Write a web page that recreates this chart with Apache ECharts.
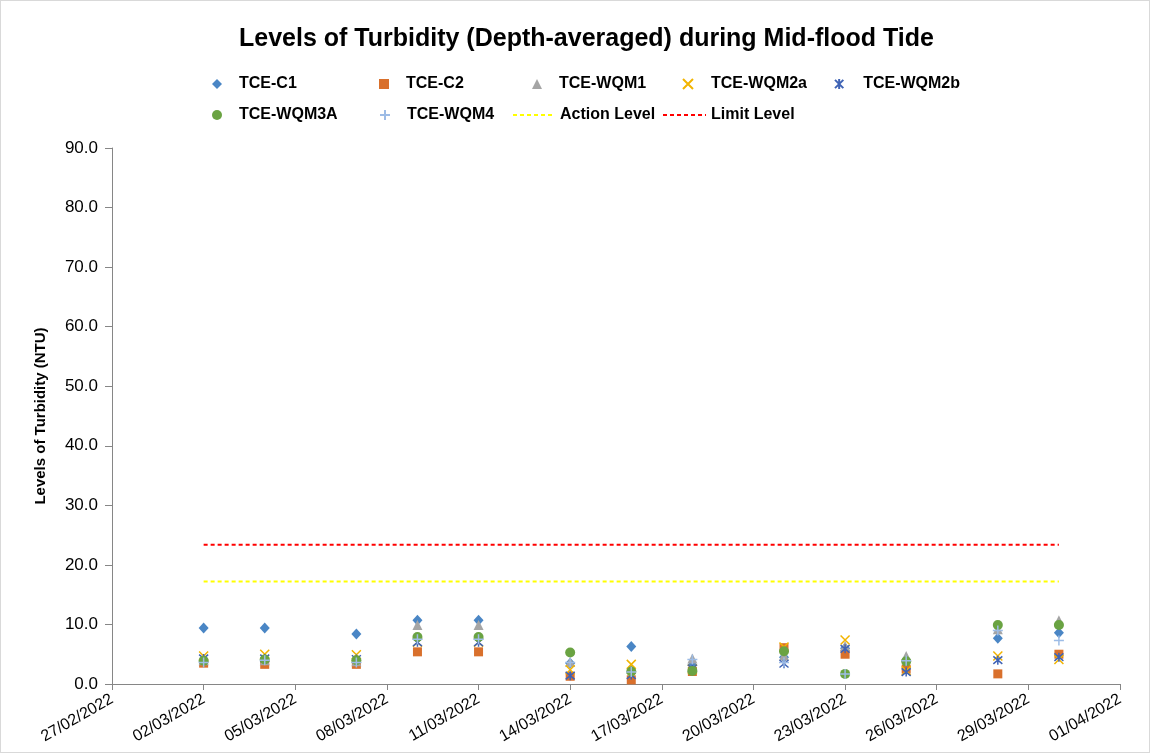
<!DOCTYPE html>
<html>
<head>
<meta charset="utf-8">
<script src="https://cdn.jsdelivr.net/npm/echarts@6/dist/echarts.min.js"></script>
<style>
html,body{margin:0;padding:0;background:#fff;}
#c{width:1148px;height:751px;border:1px solid #d9d9d9;}
</style>
</head>
<body>
<div id="c"></div>
<script>
// ---- data ----
const dates = ['02/03/2022','04/03/2022','07/03/2022','09/03/2022','11/03/2022','14/03/2022','16/03/2022','18/03/2022','21/03/2022','23/03/2022','25/03/2022','28/03/2022','30/03/2022'];
const tceC1   = [9.4, 9.4, 8.4, 10.7, 10.7, 3.5, 6.3, 3.2, 4.5, 6.0, 4.0, 7.7, 8.6];
const tceC2   = [3.5, 3.3, 3.3, 5.4, 5.4, 1.3, 0.7, 2.1, 6.1, 5.0, 2.5, 1.7, 5.0];
const tceWQM1 = [4.0, 4.0, 3.8, 9.9, 9.9, 3.7, 2.5, 4.3, 4.8, 6.4, 4.7, 9.2, 10.7];
const tceWQM2a= [4.7, 5.0, 4.9, 7.0, 7.0, 2.4, 3.3, 2.5, 6.2, 7.4, 2.2, 4.7, 4.1];
const tceWQM2b= [4.3, 4.3, 4.2, 7.0, 7.0, 1.4, 1.5, 2.6, 3.4, 5.9, 2.0, 4.0, 4.5];
const tceWQM3A= [3.9, 4.1, 4.0, 7.9, 7.9, 5.3, 2.1, 2.2, 5.5, 1.7, 3.8, 9.9, 9.9];
const tceWQM4 = [3.6, 4.0, 3.6, 7.5, 7.5, 3.6, 2.0, 4.1, 3.6, 1.7, 3.9, 9.0, 7.3];
const actionLevel = 17.2;
const limitLevel = 23.4;
const levelDates = ['02/03/2022','30/03/2022'];
const axisStart = '27/02/2022';
const axisEnd = '01/04/2022';
const tickDays = 3;

// ---- helpers ----
function toUTC(s){const p=s.split('/');return Date.UTC(+p[2],+p[1]-1,+p[0]);}
const DAY=86400000;
const t0=toUTC(axisStart);
function dayOff(s){return (toUTC(s)-t0)/DAY;}
function fmt(d){const dt=new Date(t0+d*DAY);const dd=String(dt.getUTCDate()).padStart(2,'0');const mm=String(dt.getUTCMonth()+1).padStart(2,'0');return dd+'/'+mm+'/'+dt.getUTCFullYear();}
function pts(vals){return dates.map((d,i)=>[dayOff(d),vals[i]]);}

const FONT="'Liberation Sans',Arial,sans-serif";
const symX='path://M0,0L10,10M10,0L0,10';
const symStar='path://M0,0L10,10M10,0L0,10M5,-1L5,11';
const symPlus='path://M5,0L5,10M0,5L10,5';

const series=[
 {name:'TCE-C1',type:'scatter',symbol:'diamond',symbolSize:[10,11],data:pts(tceC1),itemStyle:{color:'#4A86C5',opacity:1}},
 {name:'TCE-C2',type:'scatter',symbol:'rect',symbolSize:9,data:pts(tceC2),itemStyle:{color:'#D9702C',opacity:1}},
 {name:'TCE-WQM1',type:'scatter',symbol:'triangle',symbolSize:10,data:pts(tceWQM1),itemStyle:{color:'#A5A5A5',opacity:1}},
 {name:'TCE-WQM2a',type:'scatter',symbol:symX,symbolSize:9,data:pts(tceWQM2a),itemStyle:{color:'rgba(0,0,0,0)',borderColor:'#F2B400',borderWidth:1.5,opacity:1}},
 {name:'TCE-WQM2b',type:'scatter',symbol:symStar,symbolSize:9,data:pts(tceWQM2b),itemStyle:{color:'rgba(0,0,0,0)',borderColor:'#3F63B5',borderWidth:1.5,opacity:1}},
 {name:'TCE-WQM3A',type:'scatter',symbol:'circle',symbolSize:10,data:pts(tceWQM3A),itemStyle:{color:'#6AA342',opacity:1}},
 {name:'TCE-WQM4',type:'scatter',symbol:symPlus,symbolSize:10,data:pts(tceWQM4),itemStyle:{color:'rgba(0,0,0,0)',borderColor:'#9DBCE6',borderWidth:1.5,opacity:1}},
 {name:'Action Level',type:'line',symbol:'circle',symbolSize:0,showSymbol:false,data:levelDates.map(d=>[dayOff(d),actionLevel]),lineStyle:{color:'#FFFF00',width:2,type:[4,3]},itemStyle:{color:'#FFFF00'}},
 {name:'Limit Level',type:'line',symbol:'circle',symbolSize:0,showSymbol:false,data:levelDates.map(d=>[dayOff(d),limitLevel]),lineStyle:{color:'#FF0000',width:2,type:[4,3]},itemStyle:{color:'#FF0000'}}
];

// legend layout: [name, iconLeft, iconWidth, textStart, rowCenterY, isLine]
const legendLayout=[
 ['TCE-C1',211,10,238,83,false],
 ['TCE-C2',378,10,405,83,false],
 ['TCE-WQM1',531,10,558,83,false],
 ['TCE-WQM2a',681,10,709,83,false],
 ['TCE-WQM2b',833,10,862,83,false],
 ['TCE-WQM3A',211,10,238,114,false],
 ['TCE-WQM4',378,10,405,114,false],
 ['Action Level',511,42,558,114,true],
 ['Limit Level',661,43,709,114,true]
];
const legends=legendLayout.map(([n,l,w,ts,cy,isLine])=>{
 const lg={
  data:[isLine?{name:n,itemStyle:{opacity:0}}:{name:n}],
  left:l, top:cy-8, padding:0, itemWidth:w, itemHeight:10, itemGap:0, selectedMode:false,
  textStyle:{fontFamily:FONT,fontSize:16,fontWeight:'bold',color:'#000',padding:[0,0,0,Math.max(0,ts-(l+w)-5)]}
 };
 if(isLine){lg.lineStyle={width:2,type:[4,3]};}
 return lg;
});

const chart=echarts.init(document.getElementById('c'),null,{renderer:'canvas'});
chart.setOption({
 animation:false,
 backgroundColor:'#fff',
 title:{text:'Levels of Turbidity (Depth-averaged) during Mid-flood Tide',left:238,top:26,padding:0,textStyle:{fontFamily:FONT,fontSize:25,fontWeight:'bold',color:'#000'}},
 legend:legends,
 grid:{left:111,right:29,top:147,bottom:68,containLabel:false},
 xAxis:{type:'value',min:0,max:dayOff(axisEnd),interval:tickDays,
  axisLine:{show:true,lineStyle:{color:'#868686',width:1}},
  axisTick:{show:true,length:6,lineStyle:{color:'#868686'}},
  splitLine:{show:false},
  axisLabel:{rotate:30,margin:14,fontFamily:FONT,fontSize:16,color:'#000',formatter:v=>fmt(v)}},
 yAxis:{type:'value',min:0,max:90,interval:10,
  name:'Levels of Turbidity (NTU)',nameLocation:'middle',nameGap:64,
  nameTextStyle:{fontFamily:FONT,fontSize:15,fontWeight:'bold',color:'#000'},
  axisLine:{show:true,lineStyle:{color:'#868686',width:1}},
  axisTick:{show:true,length:7,lineStyle:{color:'#868686'}},
  splitLine:{show:false},
  axisLabel:{margin:14,fontFamily:FONT,fontSize:17,color:'#000',formatter:v=>v.toFixed(1)}},
 series:series
});
</script>
</body>
</html>
